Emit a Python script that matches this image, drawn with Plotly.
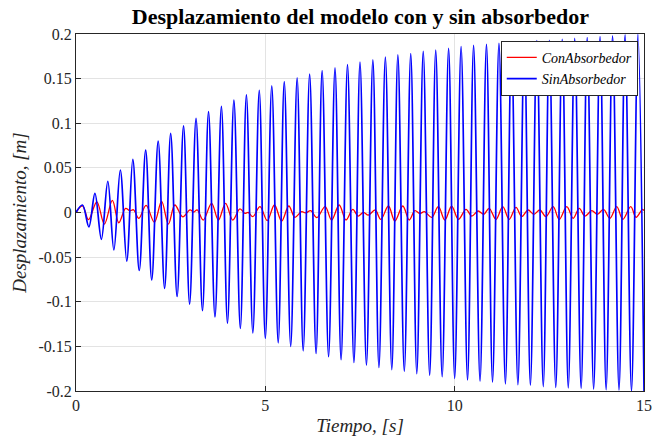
import plotly.graph_objects as go

# --- Sin absorbedor: extrema ---
sin_peak_t = [0.17, 0.50, 0.84, 1.17, 1.50, 1.84, 2.17, 2.50, 2.84, 3.17, 3.50, 3.84, 4.17, 4.50, 4.84,
              5.17, 5.50, 5.84, 6.17, 6.50, 6.84, 7.17, 7.50, 7.84, 8.17, 8.50, 8.84, 9.17, 9.50, 9.84,
              10.17, 10.50, 10.84, 11.17, 11.50, 11.84, 12.17, 12.50, 12.84, 13.17, 13.50, 13.84, 14.17, 14.50, 14.84]
sin_peak_v = [0.0084, 0.0215, 0.035, 0.0476, 0.0596, 0.070, 0.080, 0.0887, 0.097, 0.1055, 0.113, 0.119, 0.126, 0.1317, 0.137,
              0.142, 0.1466, 0.151, 0.155, 0.159, 0.162, 0.1656, 0.1686, 0.171, 0.174, 0.1765, 0.178, 0.1806, 0.182, 0.184,
              0.186, 0.1873, 0.1884, 0.1895, 0.1905, 0.1915, 0.1925, 0.193, 0.194, 0.195, 0.196, 0.197, 0.198, 0.199, 0.1995]
sin_trough_t = [0.34, 0.67, 1.00, 1.34, 1.67, 2.00, 2.34, 2.67, 3.00, 3.34, 3.67, 4.00, 4.34, 4.67, 5.00,
                5.34, 5.67, 6.00, 6.34, 6.67, 7.00, 7.34, 7.67, 8.00, 8.34, 8.67, 9.00, 9.34, 9.67, 10.00,
                10.34, 10.67, 11.00, 11.34, 11.67, 12.00, 12.34, 12.67, 13.00, 13.34, 13.67, 14.00, 14.34, 14.67, 15.00]
sin_trough_v = [-0.016, -0.030, -0.042, -0.0544, -0.065, -0.0756, -0.085, -0.094, -0.1026, -0.110, -0.117, -0.124, -0.130, -0.135, -0.141,
                -0.146, -0.150, -0.155, -0.158, -0.1616, -0.165, -0.168, -0.171, -0.1735, -0.176, -0.178, -0.1806, -0.1825, -0.184, -0.186,
                -0.1877, -0.189, -0.190, -0.192, -0.193, -0.1935, -0.195, -0.196, -0.1966, -0.197, -0.1978, -0.1986, -0.199, -0.200, -0.200]

# --- Con absorbedor: extrema ---
con_t = [0.00, 0.17, 0.33, 0.55, 0.75, 0.96, 1.13, 1.31, 1.42, 1.52, 1.66, 1.85, 2.07, 2.26, 2.44, 2.61, 2.82,
         3.01, 3.11, 3.20, 3.36, 3.58, 3.76, 3.95, 4.14, 4.33, 4.46, 4.55, 4.67, 4.86, 5.05, 5.24, 5.43, 5.62,
         5.78, 5.96, 6.06, 6.20, 6.36, 6.58, 6.75, 6.95, 7.13, 7.31, 7.45, 7.59, 7.72, 7.90, 8.05, 8.25, 8.42,
         8.63, 8.80, 8.95, 9.08, 9.20, 9.39, 9.57, 9.74, 9.92, 10.10, 10.30, 10.45, 10.62, 10.77, 10.91, 11.09,
         11.27, 11.44, 11.62, 11.77, 11.94, 12.09, 12.25, 12.41, 12.60, 12.76, 12.96, 13.13, 13.29, 13.44,
         13.62, 13.77, 13.93, 14.10, 14.28, 14.44, 14.65, 14.79, 14.96, 15.00]
con_v = [0.0, 0.0075, -0.008, 0.012, -0.013, 0.0135, -0.0115, 0.0045, 0.002, 0.003, -0.0065, 0.008, -0.011, 0.0125, -0.013, 0.0084, -0.005,
         0.003, 0.0005, 0.003, -0.0085, 0.0103, -0.0085, 0.0103, -0.0085, 0.004, -0.001, 0.0, -0.0047, 0.0065, -0.009, 0.0084, -0.0095, 0.0073,
         -0.0054, 0.001, -0.0005, 0.002, -0.0058, 0.0065, -0.0084, 0.0084, -0.0084, 0.0035, -0.004, 0.0002, -0.003, 0.0028, -0.0077, 0.0073, -0.0095,
         0.0073, -0.0084, 0.002, -0.0012, 0.001, -0.0054, 0.0065, -0.0084, 0.007, -0.0077, 0.0035, -0.004, 0.0017, -0.002, 0.0047, -0.0077,
         0.0065, -0.0077, 0.0058, -0.0047, 0.0028, -0.002, 0.0028, -0.0047, 0.0065, -0.0077, 0.0065, -0.0065, 0.0047, -0.004,
         0.002, -0.002, 0.0035, -0.0065, 0.0065, -0.0077, 0.0065, -0.0054, 0.0035, 0.002]

x_ticks = [0, 5, 10, 15]
x_tick_labels = ["0", "5", "10", "15"]
y_ticks = [-0.2, -0.15, -0.1, -0.05, 0, 0.05, 0.1, 0.15, 0.2]
y_tick_labels = ["-0.2", "-0.15", "-0.1", "-0.05", "0", "0.05", "0.1", "0.15", "0.2"]

sin_t = [0.0]
sin_v = [0.0]
for tp, vp, tt, vt in zip(sin_peak_t, sin_peak_v, sin_trough_t, sin_trough_v):
    sin_t += [tp, tt]
    sin_v += [vp, vt]

SERIF = "Liberation Serif"

fig = go.Figure()
fig.add_trace(go.Scatter(x=con_t, y=con_v, mode="lines", name="ConAbsorbedor",
                         line=dict(color="#ff0000", width=1.3, shape="spline")))
fig.add_trace(go.Scatter(x=sin_t, y=sin_v, mode="lines", name="SinAbsorbedor",
                         line=dict(color="#0000ff", width=1.7, shape="spline")))

axis_common = dict(showline=True, linecolor="#262626", linewidth=1, mirror=True,
                   ticks="inside", ticklen=5, tickcolor="#262626", automargin=False,
                   showgrid=True, gridcolor="#e3e3e3", gridwidth=1, zeroline=False,
                   tickfont=dict(family=SERIF, size=16, color="#262626"))

fig.update_layout(
    width=654, height=438,
    margin=dict(l=76, r=10, t=34, b=47),
    paper_bgcolor="white", plot_bgcolor="white",
    font=dict(family=SERIF, color="#262626"),
    title=dict(text="<b>Desplazamiento del modelo con y sin absorbedor</b>",
               x=0.551, xanchor="center", y=0.962, yanchor="middle",
               font=dict(family=SERIF, size=22, color="black")),
    xaxis=dict(range=[0, 15], tickvals=x_ticks, ticktext=x_tick_labels,
               title=dict(text="<i>Tiempo, [s]</i>", standoff=5,
                          font=dict(family=SERIF, size=19, color="#262626")),
               **axis_common),
    yaxis=dict(range=[-0.2, 0.2], tickvals=y_ticks, ticktext=y_tick_labels,
               title=dict(text="<i>Desplazamiento, [m]</i>", standoff=6,
                          font=dict(family=SERIF, size=19, color="#262626")),
               **axis_common),
    legend=dict(x=0.989, y=0.981, xanchor="right", yanchor="top",
                bgcolor="white", bordercolor="#262626", borderwidth=1,
                font=dict(family=SERIF, size=14, color="black", style="italic"),
                tracegroupgap=0, itemwidth=30),
    showlegend=True,
)

fig.write_html("out.html", config={"displayModeBar": False},
               post_script="document.body.style.margin='0';")
